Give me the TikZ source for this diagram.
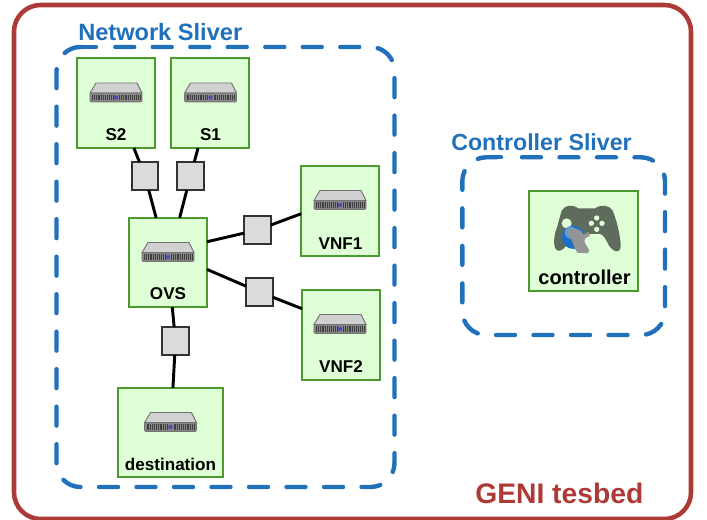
\documentclass[tikz,border=0pt]{standalone}
\usepackage{fontspec}
\setmainfont{Liberation Sans}
\definecolor{testbedred}{HTML}{AE3A37}
\definecolor{sliverblue}{HTML}{2170BC}
\definecolor{hostgreen}{HTML}{4A9A2E}
\definecolor{hostfill}{HTML}{DFFFD6}
\definecolor{padgray}{HTML}{5F6B5C}
\definecolor{globeblue}{HTML}{1D6FC4}
\tikzset{
  hostbox/.style={draw=hostgreen,fill=hostfill,line width=1.4pt,inner sep=0pt,outer sep=0pt},
  linkbox/.style={draw=black!80,fill=black!14,line width=1.3pt,inner sep=0pt,outer sep=0pt,minimum width=20pt,minimum height=21pt},
  hostlabel/.style={anchor=base,inner sep=0pt,font=\fontsize{12.8}{14}\selectfont\bfseries},
  sliver/.style={draw=sliverblue,line width=3.3pt,line cap=round,dash pattern=on 14.2pt off 13.925pt,rounded corners=18pt},
  sliverlabel/.style={anchor=base west,inner sep=0pt,text=sliverblue,font=\fontsize{17.5}{20}\selectfont\bfseries},
  wire/.style={line width=2.2pt},
  servericon/.pic={
    \path[fill=black!18,draw=black!55,line width=.7pt] (-26,0.5) -- (-20,-9.5) -- (21,-9.5) -- (26,0.5) -- cycle;
    \path[fill=black!48,draw=black!55,line width=.7pt,rounded corners=1pt] (-26,0.5) rectangle (26,9.5);
    \draw[black!75,line width=4pt,dash pattern=on .7pt off .7pt] (-24,5) -- (-3,5);
    \draw[black!75,line width=4pt,dash pattern=on .7pt off .7pt] (3,5) -- (24,5);
    \fill[blue!60!black!70!white] (0,5) circle (2.2);
  }
}
\begin{document}
\begin{tikzpicture}[x=0.75pt,y=-0.75pt]
  \useasboundingbox (0,0) rectangle (707,520);
  %Frames
  \draw[testbedred,line width=3.4pt,rounded corners=20pt] (14,5) rectangle (691,519);
  \draw[sliver] (115.3,47) -- (394.5,47) -- (394.5,487) -- (56.5,487) -- (56.5,47) -- (96,47);
  \draw[sliver,solid] (80,47) -- (96,47);
  \draw[sliver] (522,157.3) -- (665,157.3) -- (665,335) -- (462.3,335) -- (462.3,157.3) -- (500,157.3);
  \draw[sliver,solid] (490,157.3) -- (501,157.3);

  %Nodes
  \node at (116,103)     [hostbox,minimum width=58.5pt,minimum height=67.5pt] (S2)   {};
  \node at (210.2,103)   [hostbox,minimum width=58.5pt,minimum height=67.5pt] (S1)   {};
  \node at (168,262.5)   [hostbox,minimum width=58.5pt,minimum height=67pt]   (OVS)  {};
  \node at (340.2,211)   [hostbox,minimum width=58.5pt,minimum height=67.5pt] (VNF1) {};
  \node at (341,335)     [hostbox,minimum width=58.5pt,minimum height=67.5pt] (VNF2) {};
  \node at (170.5,432.5) [hostbox,minimum width=79pt,minimum height=67pt]     (dest) {};
  \node at (583.5,241)   [hostbox,minimum width=81.5pt,minimum height=75pt]   (ctrl) {};

  \node at (145,176)     [linkbox] (lS2)   {};
  \node at (190.5,176)   [linkbox] (lS1)   {};
  \node at (257.5,230)   [linkbox] (lVNF1) {};
  \node at (259.5,292)   [linkbox] (lVNF2) {};
  \node at (175.5,341)   [linkbox] (ldest) {};

  \node at (78,41)    [sliverlabel,font=\fontsize{17.7}{20}\selectfont\bfseries] (netlabel)  {Network Sliver};
  \node at (451,151)  [sliverlabel,font=\fontsize{17.4}{20}\selectfont\bfseries] (ctrllabel) {Controller Sliver};
  \node at (475,503)  [anchor=base west,inner sep=0pt,text=testbedred,font=\fontsize{21.2}{24}\selectfont\bfseries] (genilabel) {GENI tesbed};

  \node at (116,141)   [hostlabel] (S2label)   {S2};
  \node at (210.5,141) [hostlabel] (S1label)   {S1};
  \node at (168,299.5) [hostlabel] (OVSlabel)  {OVS};
  \node at (340.5,250) [hostlabel] (VNF1label) {VNF1};
  \node at (341,373)   [hostlabel] (VNF2label) {VNF2};
  \node at (170.5,470) [hostlabel] (destlabel) {destination};
  \node at (584.5,285) [anchor=base,inner sep=0pt,font=\fontsize{15}{17}\selectfont\bfseries] (ctrllabel2) {controller};

  %Icons
  \pic at (116,92.5) {servericon};
  \pic at (210.5,92.5) {servericon};
  \pic at (168,252) {servericon};
  \pic at (340,200) {servericon};
  \pic at (340,324) {servericon};
  \pic at (170.5,422) {servericon};

  %Gamepad
  \begin{scope}[shift={(550,200)},x=0.25pt,y=-0.25pt]
    \fill[padgray] (35,32) .. controls (45,15) and (65,12) .. (85,25) -- (135,25)
      .. controls (155,12) and (178,15) .. (188,32) .. controls (200,60) and (212,110) .. (212,140)
      .. controls (210,162) and (190,157) .. (176,135) .. controls (166,115) and (160,104) .. (150,102)
      -- (70,102) .. controls (60,115) and (45,155) .. (25,152) .. controls (8,150) and (10,110) .. (20,85) -- cycle;
    \fill[hostfill] (50,70) circle (15);
    \foreach \bx/\by in {140/54,124/70,156/70,140/88}
      \fill[hostfill] (\bx,\by) circle (8);
    \fill[globeblue] (70,112) circle (35);
    \fill[globeblue!70!white] (62,98) circle (18);
    \fill[black!42] (50,96) .. controls (65,78) and (92,84) .. (100,103) -- (116,96) -- (120,106) -- (102,118)
      .. controls (102,130) and (114,142) .. (118,152) -- (112,160) -- (82,158) .. controls (70,145) and (72,122) .. (50,96) -- cycle;
  \end{scope}

  %Lines
  \draw[wire] (S2) -- (lS2);
  \draw[wire] (lS2) -- (OVS);
  \draw[wire] (S1) -- (lS1);
  \draw[wire] (lS1) -- (OVS);
  \draw[wire] (OVS.28) -- (lVNF1);
  \draw[wire] (lVNF1) -- (VNF1.184);
  \draw[wire] (OVS.350) -- (lVNF2);
  \draw[wire] (lVNF2) -- (VNF2.146);
  \draw[wire] (OVS) -- (ldest);
  \draw[wire] (ldest) -- (dest);
\end{tikzpicture}
\end{document}
